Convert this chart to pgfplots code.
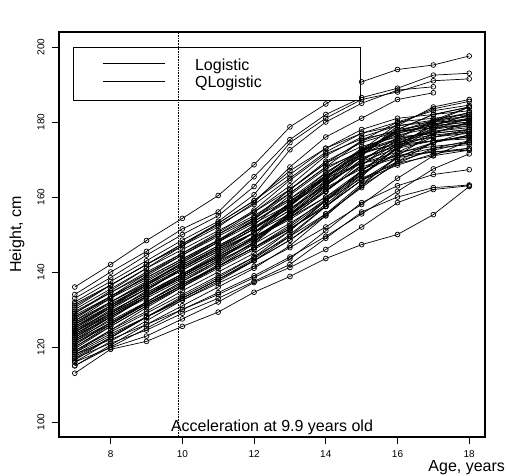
\documentclass[border=0pt]{standalone}
\usepackage{fontspec}
\setmainfont{Liberation Sans}
\usepackage{pgfplots}
\pgfplotsset{compat=1.18}
\pgfplotsset{boy/.style={black, solid, line width=0.7pt, mark=o, mark size=2.4pt, mark options={solid, black, line width=0.7pt}}}
\begin{document}
\begin{tikzpicture}
\path[use as bounding box] (0,0) rectangle (506pt,475pt);
\begin{axis}[
  at={(59pt,38pt)}, anchor=south west,
  scale only axis, width=426pt, height=405pt,
  xmin=6.56, xmax=18.44, ymin=96, ymax=204,
  xtick={8,10,12,14,16,18}, ytick={100,120,140,160,180,200},
  tick align=outside, major tick length=7pt,
  xtick pos=left, ytick pos=left,
  axis line style={black, line width=1.1pt},
  tick style={black, line width=0.9pt},
  every tick label/.append style={font=\fontsize{10}{12}\selectfont},
  yticklabel style={xshift=-4pt, rotate=90, anchor=south},
  xticklabel style={yshift=-3pt},
  /pgf/number format/assume math mode=true,
  xlabel={Age, years}, ylabel={Height, cm},
  label style={font=\fontsize{16}{18}\selectfont},
  xlabel style={at={(axis description cs:0.957,-0.0852)}, anchor=base, inner sep=0pt},
  ylabel style={at={(axis description cs:-0.0986,0.5)}, anchor=center},
]
\addplot[boy] coordinates {(7,113)(8,119.4)(9,121.5)(10,125.5)(11,129.3)(12,134.6)(13,138.8)(14,143.6)(15,147.3)(16,150)(17,155.3)(18,162.8)};
\addplot[boy] coordinates {(7,116)(8,119.8)(9,122.9)(10,127.5)(11,132)(12,137.2)(13,141.2)(14,146)(15,152)(16,158.5)(17,162)(18,163)};
\addplot[boy] coordinates {(7,117)(8,121)(9,124.5)(10,129)(11,133)(12,137.5)(13,142)(14,149)(15,156)(16,160)(17,162.5)(18,163.2)};
\addplot[boy] coordinates {(7,118)(8,122)(9,126)(10,130)(11,134)(12,138.5)(13,143.5)(14,151)(15,158.5)(16,163)(17,166)(18,167.3)};
\addplot[boy] coordinates {(7,115)(8,120.5)(9,126)(10,131)(11,136)(12,141)(13,147)(14,155)(15,163)(16,169)(17,173)(18,175)};
\addplot[boy] coordinates {(7,116.5)(8,122.5)(9,128)(10,133.5)(11,138.5)(12,144)(13,151)(14,159)(15,165)(16,169)(17,171)(18,172.5)};
\addplot[boy] coordinates {(7,117.5)(8,122.5)(9,128)(10,133)(11,138)(12,143)(13,148.5)(14,155.5)(15,163.5)(16,170.5)(17,174.5)(18,176.5)};
\addplot[boy] coordinates {(7,118.5)(8,124.5)(9,130.5)(10,136)(11,141.5)(12,147.5)(13,155.5)(14,162.5)(15,167.5)(16,170.5)(17,172)(18,173)};
\addplot[boy] coordinates {(7,119)(8,124.5)(9,129.5)(10,135)(11,140)(12,145)(13,151)(14,159)(15,167)(16,173)(17,177)(18,180)};
\addplot[boy] coordinates {(7,119.5)(8,125.5)(9,131)(10,136.5)(11,142)(12,148)(13,155)(14,162)(15,168)(16,171)(17,173)(18,174)};
\addplot[boy] coordinates {(7,120)(8,125.5)(9,131)(10,136)(11,141)(12,146)(13,151.5)(14,158)(15,166)(16,173)(17,178)(18,181)};
\addplot[boy] coordinates {(7,120.5)(8,126.5)(9,132)(10,137.5)(11,142.5)(12,148)(13,156)(14,164)(15,169)(16,172)(17,173.5)(18,174.5)};
\addplot[boy] coordinates {(7,121)(8,126.5)(9,131.5)(10,136.5)(11,141.5)(12,146.5)(13,152.5)(14,159.5)(15,166.5)(16,171.5)(17,174.5)(18,176.5)};
\addplot[boy] coordinates {(7,121.5)(8,127.5)(9,133.5)(10,139)(11,144)(12,149)(13,155.5)(14,163.5)(15,169.5)(16,173)(17,175)(18,176)};
\addplot[boy] coordinates {(7,122)(8,127)(9,132)(10,137)(11,141.5)(12,146.5)(13,151.5)(14,157.5)(15,165.5)(16,173.5)(17,178.5)(18,181)};
\addplot[boy] coordinates {(7,122)(8,128)(9,133.5)(10,139)(11,144.5)(12,150.5)(13,158.5)(14,165.5)(15,170.5)(16,173.5)(17,175)(18,176)};
\addplot[boy] coordinates {(7,122.5)(8,128)(9,133.5)(10,138.5)(11,143.5)(12,149)(13,155)(14,163)(15,170)(16,175)(17,178)(18,179.5)};
\addplot[boy] coordinates {(7,123)(8,128)(9,133)(10,138)(11,143)(12,147.5)(13,153)(14,159)(15,166)(16,172)(17,176)(18,178)};
\addplot[boy] coordinates {(7,123)(8,129)(9,135)(10,141)(11,146.5)(12,152.5)(13,160.5)(14,167.5)(15,172.5)(16,175)(17,176.5)(18,177.5)};
\addplot[boy] coordinates {(7,123.5)(8,129)(9,134)(10,139)(11,144)(12,149)(13,154.5)(14,161.5)(15,169.5)(16,176)(17,180)(18,182.5)};
\addplot[boy] coordinates {(7,124)(8,129)(9,134)(10,139)(11,144)(12,149)(13,155)(14,163)(15,170)(16,174)(17,176)(18,177.5)};
\addplot[boy] coordinates {(7,124)(8,130)(9,135.5)(10,141)(11,146)(12,151.5)(13,158.5)(14,166.5)(15,172.5)(16,175.5)(17,177)(18,178)};
\addplot[boy] coordinates {(7,124.5)(8,129.5)(9,134.5)(10,139.5)(11,144)(12,149)(13,154)(14,160)(15,167)(16,174)(17,179)(18,182)};
\addplot[boy] coordinates {(7,125)(8,130.5)(9,135.5)(10,140.5)(11,145.5)(12,150.5)(13,156.5)(14,164.5)(15,171.5)(16,175.5)(17,177.5)(18,178.5)};
\addplot[boy] coordinates {(7,125)(8,131)(9,137)(10,142.5)(11,148)(12,154)(13,161)(14,168)(15,172)(16,174)(17,175)(18,175.5)};
\addplot[boy] coordinates {(7,125.5)(8,130.5)(9,135.5)(10,140.5)(11,145.5)(12,150.5)(13,156.5)(14,163.5)(15,171.5)(16,177.5)(17,180.5)(18,182.5)};
\addplot[boy] coordinates {(7,126)(8,131)(9,136)(10,141)(11,146)(12,150.5)(13,155.5)(14,161.5)(15,168.5)(16,175.5)(17,180.5)(18,184)};
\addplot[boy] coordinates {(7,126)(8,132)(9,137.5)(10,143)(11,148.5)(12,154.5)(13,162)(14,169.5)(15,174.5)(16,177.5)(17,179)(18,180)};
\addplot[boy] coordinates {(7,126.5)(8,132)(9,137)(10,142)(11,147)(12,152)(13,158)(14,165)(15,172)(16,177)(17,179.5)(18,181)};
\addplot[boy] coordinates {(7,127)(8,132)(9,137)(10,142)(11,147)(12,152)(13,157)(14,163)(15,171)(16,178)(17,182)(18,184)};
\addplot[boy] coordinates {(7,127.5)(8,133.5)(9,139.5)(10,145)(11,150.5)(12,156.5)(13,164.5)(14,171.5)(15,175.5)(16,177.5)(17,178.5)(18,179)};
\addplot[boy] coordinates {(7,128)(8,133.5)(9,138.5)(10,143.5)(11,148.5)(12,153.5)(13,159.5)(14,166.5)(15,172.5)(16,176.5)(17,178.5)(18,179.5)};
\addplot[boy] coordinates {(7,128.5)(8,133.5)(9,138.5)(10,143.5)(11,148.5)(12,153.5)(13,159)(14,165)(15,172)(16,178)(17,182)(18,184)};
\addplot[boy] coordinates {(7,129)(8,135)(9,141)(10,147)(11,153)(12,159)(13,167)(14,173)(15,177)(16,179)(17,180)(18,180.5)};
\addplot[boy] coordinates {(7,129.5)(8,134.5)(9,139.5)(10,144.5)(11,149.5)(12,154.5)(13,159.5)(14,165.5)(15,172.5)(16,179.5)(17,183.5)(18,185.5)};
\addplot[boy] coordinates {(7,130)(8,135.5)(9,141)(10,146)(11,151)(12,156)(13,162)(14,169)(15,175)(16,178)(17,179.5)(18,180.5)};
\addplot[boy] coordinates {(7,131)(8,136.5)(9,142)(10,147.5)(11,153)(12,159)(13,166)(14,173)(15,178)(16,181)(17,182)(18,183)};
\addplot[boy] coordinates {(7,136)(8,142)(9,148.4)(10,154.3)(11,160.4)(12,168.6)(13,178.7)(14,184.8)(15,190.7)(16,194)(17,195.2)(18,197.6)};
\addplot[boy] coordinates {(7,134)(8,140)(9,145.5)(10,151.5)(11,156)(12,165.4)(13,175.3)(14,182)(15,186.5)(16,189)(17,192.5)(18,193)};
\addplot[boy] coordinates {(7,133)(8,138.5)(9,144.5)(10,150)(11,155)(12,162.8)(13,174.5)(14,181)(15,186)(16,188)(17,191)(18,191.5)};
\addplot[boy] coordinates {(7,132)(8,137.5)(9,143)(10,148.5)(11,153.5)(12,160.6)(13,172.6)(14,180)(15,185)(16,188.5)(17,189.4)};
\addplot[boy] coordinates {(7,131.5)(8,136.5)(9,142)(10,147)(11,152)(12,158.5)(13,168)(14,176)(15,181)(16,186)(17,187.8)};
\addplot[boy] coordinates {(7,117)(8,122.5)(9,128)(10,133)(11,138)(12,143.5)(13,150)(14,157.5)(15,164.5)(16,169.5)(17,172.5)(18,174.5)};
\addplot[boy] coordinates {(7,118)(8,123)(9,128)(10,133)(11,138)(12,143)(13,148.5)(14,155)(15,163)(16,171)(17,177)(18,180)};
\addplot[boy] coordinates {(7,120)(8,126)(9,132)(10,137.5)(11,143)(12,149.5)(13,158)(14,165)(15,169)(16,171)(17,172)(18,172.5)};
\addplot[boy] coordinates {(7,121)(8,126)(9,131.5)(10,136.5)(11,141.5)(12,146.5)(13,152)(14,159)(15,167)(16,174)(17,179)(18,182)};
\addplot[boy] coordinates {(7,122.5)(8,128.5)(9,134)(10,139.5)(11,145)(12,150.5)(13,157.5)(14,165.5)(15,171.5)(16,174.5)(17,176)(18,177)};
\addplot[boy] coordinates {(7,123.5)(8,128.5)(9,133.5)(10,138.5)(11,143.5)(12,148.5)(13,154.5)(14,161.5)(15,168.5)(16,174.5)(17,177.5)(18,179)};
\addplot[boy] coordinates {(7,124.5)(8,130.5)(9,136.5)(10,142.5)(11,148)(12,154)(13,162)(14,169)(15,173.5)(16,176)(17,177)(18,178)};
\addplot[boy] coordinates {(7,125.5)(8,131)(9,136.5)(10,141.5)(11,146.5)(12,151.5)(13,157.5)(14,165)(15,172.5)(16,177.5)(17,180)(18,181.5)};
\addplot[boy] coordinates {(7,127)(8,133)(9,139)(10,144.5)(11,150)(12,156)(13,163)(14,171)(15,176)(16,179)(17,180.5)(18,181.5)};
\addplot[boy] coordinates {(7,128)(8,133)(9,138)(10,143)(11,148)(12,153)(13,158)(14,164)(15,171)(16,179)(17,184)(18,186)};
\addplot[boy] coordinates {(7,130.5)(8,136.5)(9,142)(10,147.5)(11,152.5)(12,158)(13,165)(14,172)(15,177)(16,180)(17,181)(18,182)};
\addplot[boy] coordinates {(7,119)(8,124)(9,129)(10,134)(11,139)(12,144)(13,149.5)(14,155.5)(15,162.5)(16,169.5)(17,174.5)(18,177.5)};
\addplot[boy] coordinates {(7,116)(8,121.5)(9,127)(10,132.5)(11,137.5)(12,143)(13,149.5)(14,157.5)(15,164.5)(16,168.5)(17,171.5)(18,173)};
\addplot[boy] coordinates {(7,121.5)(8,126.5)(9,131.5)(10,136.5)(11,141.5)(12,146.5)(13,151.5)(14,157.5)(15,164.5)(16,170.5)(17,174.5)(18,176.5)};
\addplot[boy] coordinates {(7,126.5)(8,131.5)(9,136.5)(10,141.5)(11,146.5)(12,151.5)(13,158)(14,166)(15,173)(16,177)(17,179)(18,180)};
\addplot[boy] coordinates {(7,129)(8,134.5)(9,140)(10,145)(11,150)(12,155)(13,161)(14,168)(15,175)(16,180)(17,183)(18,184.5)};
\addplot[boy] coordinates {(7,124)(8,129.5)(9,134.5)(10,139.5)(11,144.5)(12,149.5)(13,154.5)(14,160)(15,166)(16,173)(17,180)(18,184)};
\addplot[boy] coordinates {(7,118.5)(8,123.5)(9,128)(10,132.5)(11,137)(12,141.5)(13,146.5)(14,152)(15,158)(16,165)(17,171)(18,175)};
\addplot[boy] coordinates {(7,115)(8,120)(9,125)(10,130)(11,134.5)(12,139)(13,144)(14,149.5)(15,155.5)(16,161.5)(17,167.5)(18,171.5)};
% legend box
\draw[fill=white, line width=0.9pt] (rel axis cs:0.033,0.830) rectangle (rel axis cs:0.707,0.963);
\draw[line width=0.9pt] (rel axis cs:0.103,0.923) -- (rel axis cs:0.249,0.923);
\draw[line width=0.9pt] (rel axis cs:0.103,0.879) -- (rel axis cs:0.249,0.879);
\node[anchor=west, font=\fontsize{16}{18}\selectfont, inner sep=0pt] at (rel axis cs:0.319,0.914) {Logistic};
\node[anchor=west, font=\fontsize{16}{18}\selectfont, inner sep=0pt] at (rel axis cs:0.319,0.872) {QLogistic};
% acceleration line
\addplot[black, densely dotted, line width=0.6pt, mark=none] coordinates {(9.9,96) (9.9,204)};
\node[font=\fontsize{16}{18}\selectfont, anchor=base] at (rel axis cs:0.5,0.013) {Acceleration at 9.9 years old};
\node[font=\fontsize{14}{16}\selectfont] at (rel axis cs:0.5,1) [yshift=18pt] {Boy};
\draw[line width=1.1pt] (rel axis cs:0,0) rectangle (rel axis cs:1,1);
\end{axis}
\end{tikzpicture}
\end{document}
